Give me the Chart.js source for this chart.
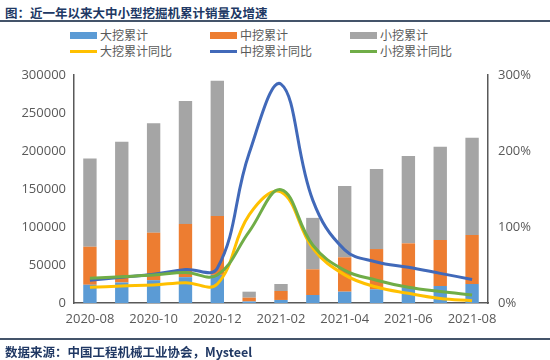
<!DOCTYPE html>
<html><head><meta charset="utf-8">
<script src="https://cdn.jsdelivr.net/npm/chart.js@4/dist/chart.umd.min.js"></script>
<style>
html,body{margin:0;padding:0;background:#fff;}
#wrap{position:relative;width:550px;height:360px;overflow:hidden;font-family:"Noto Sans CJK SC","Noto Sans",sans-serif;}
#title{position:absolute;left:5px;top:3px;font-size:12.5px;font-weight:bold;color:#203864;white-space:nowrap;}
#rule1{position:absolute;left:0;top:20px;width:550px;height:2px;background:#44546A;}
#rule2{position:absolute;left:0;top:338px;width:550px;height:2px;background:#44546A;}
#source{position:absolute;left:5px;top:342px;font-size:12.5px;font-weight:bold;color:#203864;white-space:nowrap;}
#legend .it{position:absolute;font-size:12px;color:#595959;white-space:nowrap;line-height:14px;}
#legend .sw{position:absolute;}
canvas{position:absolute;left:0;top:0;}
</style></head>
<body>
<div id="wrap">
<div id="title">图：近一年以来大中小型挖掘机累计销量及增速</div>
<div id="rule1"></div>
<div id="legend"></div>
<canvas id="c" width="550" height="360"></canvas>
<div id="rule2"></div>
<div id="source">数据来源：中国工程机械工业协会，Mysteel</div>
</div>
<script>
const categories = ["2020-08","2020-09","2020-10","2020-11","2020-12","2021-01","2021-02","2021-03","2021-04","2021-05","2021-06","2021-07","2021-08"];
// stacked bar segments (units)
const largeCum  = [24000, 27000, 30000, 34000, 37000, 2000, 4000, 10500, 14900, 18000, 20500, 22400, 25000];
const mediumCum = [50000, 55900, 62500, 70000, 77500, 5000, 11800, 33800, 45200, 53000, 58000, 60500, 64500];
const smallCum  = [116000,129300,143900,161800,178000, 7900, 9200, 67700, 93900, 105300,114900,122800,128000];
// year-on-year growth (%)
const largeYoY  = [20.6, 22.4, 23.7, 26.8, 25, 116, 146, 72, 37, 21, 12.7, 6, 3];
const mediumYoY = [30, 33.8, 37.7, 44, 45.6, 197, 288, 135, 70, 54, 47, 39, 31];
const smallYoY  = [32.5, 34.6, 36.8, 40, 36.8, 94, 149, 76, 43, 30, 20.6, 15, 10.5];
const leftTicks = [0, 50000, 100000, 150000, 200000, 250000, 300000];
const rightTicks = [0, 100, 200, 300];

const names = ["大挖累计","中挖累计","小挖累计","大挖累计同比","中挖累计同比","小挖累计同比"];
const colors = ["#5B9BD5","#ED7D31","#A5A5A5","#FFC000","#4169B9","#70AD47"];

// HTML legend
const lg = document.getElementById('legend');
const colX = [70, 210, 350];
const rowY = [35, 51];
names.forEach((n,i)=>{
  const r = Math.floor(i/3), c = i%3;
  const sw = document.createElement('div'); sw.className='sw';
  const isBar = r===0;
  sw.style.left = colX[c]+'px';
  sw.style.width = '27px';
  sw.style.height = (isBar?7:3)+'px';
  sw.style.top = (rowY[r] - (isBar?3.5:1.5))+'px';
  sw.style.background = colors[i];
  lg.appendChild(sw);
  const t = document.createElement('div'); t.className='it';
  t.textContent = n;
  t.style.left = (colX[c]+30)+'px';
  t.style.top = (rowY[r]-7)+'px';
  lg.appendChild(t);
});

const tickFont = {family:"'Open Sans','Noto Sans',sans-serif", size:13};
const barCommon = {type:'bar', yAxisID:'y', stack:'s', barPercentage:0.42, categoryPercentage:1.0, order:10, borderWidth:0};
const lineCommon = {type:'line', yAxisID:'y1', pointRadius:0, borderWidth:3, tension:0.4, fill:false};

new Chart(document.getElementById('c'), {
  data:{
    labels:categories,
    datasets:[
      Object.assign({label:names[0], data:largeCum, backgroundColor:colors[0]}, barCommon),
      Object.assign({label:names[1], data:mediumCum, backgroundColor:colors[1]}, barCommon),
      Object.assign({label:names[2], data:smallCum, backgroundColor:colors[2]}, barCommon),
      Object.assign({label:names[3], data:largeYoY, borderColor:colors[3], order:3}, lineCommon),
      Object.assign({label:names[4], data:mediumYoY, borderColor:colors[4], order:2}, lineCommon),
      Object.assign({label:names[5], data:smallYoY, borderColor:colors[5], order:1}, lineCommon)
    ]
  },
  options:{
    responsive:false, animation:false,
    layout:{padding:{top:75, bottom:27, left:0, right:0}},
    plugins:{legend:{display:false}, tooltip:{enabled:false}},
    scales:{
      x:{stacked:true, grid:{display:false, drawTicks:false}, border:{color:'#595959', width:1.5},
         ticks:{autoSkip:false, maxRotation:0, padding:8, color:'#595959', font:tickFont,
           callback:function(v,i){return i%2===0?categories[i]:'';}},
         afterFit:function(s){s.height=30;}},
      y:{stacked:true, position:'left', min:0, max:300000, grid:{display:false, drawTicks:false},
         border:{color:'#595959', width:1.5},
         afterBuildTicks:function(s){s.ticks=leftTicks.map(v=>({value:v}));},
         ticks:{padding:8, color:'#595959', font:tickFont, callback:v=>String(v)},
         afterFit:function(s){s.width=74;}},
      y1:{stacked:false, position:'right', min:0, max:300, grid:{display:false, drawTicks:false},
         border:{color:'#595959', width:1.5},
         afterBuildTicks:function(s){s.ticks=rightTicks.map(v=>({value:v}));},
         ticks:{padding:10, color:'#595959', font:tickFont, callback:v=>v+'%'},
         afterFit:function(s){s.width=62;}}
    }
  }
});
</script>
</body></html>
